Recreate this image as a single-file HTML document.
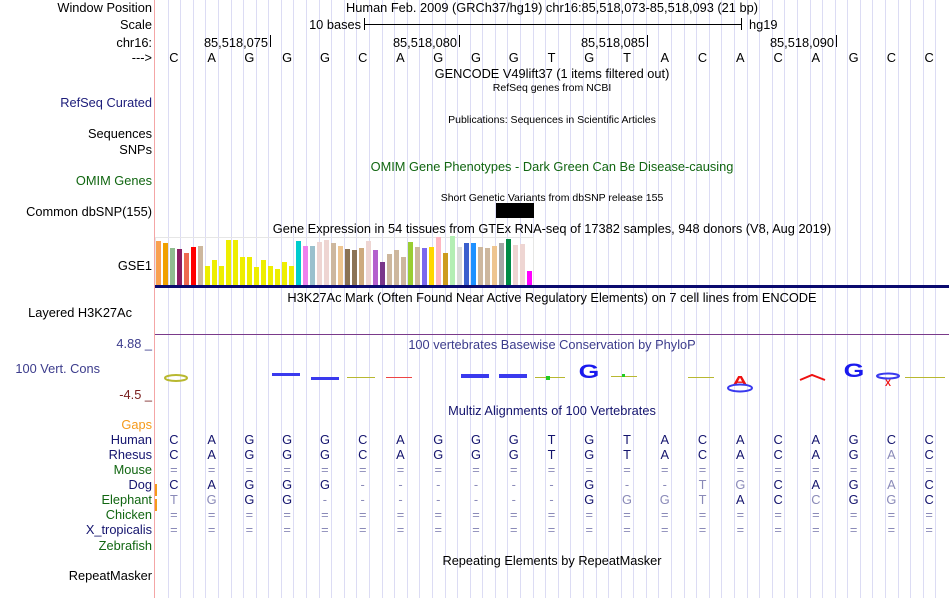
<!DOCTYPE html>
<html><head><meta charset="utf-8"><style>
body{margin:0;background:#fff;}
svg{display:block;font-family:"Liberation Sans",sans-serif;}
</style></head><body>
<svg id="s" width="950" height="598">
<g id="grid"></g>
<line x1="154.5" y1="0" x2="154.5" y2="598" stroke="#f4a6a6" stroke-width="1"/>
<g font-size="12.8" text-anchor="end">
<text x="152" y="12">Window Position</text>
<text x="152" y="29">Scale</text>
<text x="152" y="47">chr16:</text>
<text x="152" y="62">---&gt;</text>
<text x="152" y="107" fill="#1c1c7a">RefSeq Curated</text>
<text x="152" y="138">Sequences</text>
<text x="152" y="154">SNPs</text>
<text x="152" y="185" fill="#116611">OMIM Genes</text>
<text x="152" y="216">Common dbSNP(155)</text>
<text x="152" y="270">GSE1</text>
<text x="132" y="317">Layered H3K27Ac</text>
<text x="100" y="373" fill="#3c3c8c">100 Vert. Cons</text>
<text x="152" y="348" fill="#3c3c8c">4.88 _</text>
<text x="152" y="399" fill="#7a2020">-4.5 _</text>
<text x="152" y="429" fill="#f59a1a">Gaps</text>
<text x="152" y="444" fill="#14146e">Human</text>
<text x="152" y="459" fill="#14146e">Rhesus</text>
<text x="152" y="474" fill="#116611">Mouse</text>
<text x="152" y="489" fill="#14146e">Dog</text>
<text x="152" y="504" fill="#116611">Elephant</text>
<text x="152" y="519" fill="#116611">Chicken</text>
<text x="152" y="534" fill="#14146e">X_tropicalis</text>
<text x="152" y="550" fill="#116611">Zebrafish</text>
<text x="152" y="580">RepeatMasker</text>
</g>
<rect x="155" y="484" width="2" height="12" fill="#f59a1a"/>
<rect x="155" y="499" width="2" height="12" fill="#f59a1a"/>
<g font-size="12.8" text-anchor="middle">
<text x="552" y="12">Human Feb. 2009 (GRCh37/hg19)   chr16:85,518,073-85,518,093 (21 bp)</text>
<text x="552" y="78">GENCODE V49lift37 (1 items filtered out)</text>
<text x="552" y="91" font-size="10.5">RefSeq genes from NCBI</text>
<text x="552" y="123" font-size="10.5">Publications: Sequences in Scientific Articles</text>
<text x="552" y="171" fill="#116611">OMIM Gene Phenotypes - Dark Green Can Be Disease-causing</text>
<text x="552" y="201" font-size="10.5">Short Genetic Variants from dbSNP release 155</text>
<text x="552" y="233">Gene Expression in 54 tissues from GTEx RNA-seq of 17382 samples, 948 donors (V8, Aug 2019)</text>
<text x="552" y="302">H3K27Ac Mark (Often Found Near Active Regulatory Elements) on 7 cell lines from ENCODE</text>
<text x="552" y="349" fill="#3c3c8c">100 vertebrates Basewise Conservation by PhyloP</text>
<text x="552" y="415" fill="#14146e">Multiz Alignments of 100 Vertebrates</text>
<text x="552" y="565">Repeating Elements by RepeatMasker</text>
</g>
<g>
<text x="361" y="29" font-size="12.8" text-anchor="end">10 bases</text>
<line x1="364.5" y1="18" x2="364.5" y2="30" stroke="#000"/>
<line x1="364.5" y1="24.5" x2="741.5" y2="24.5" stroke="#000"/>
<line x1="741.5" y1="18" x2="741.5" y2="30" stroke="#000"/>
<text x="749" y="29" font-size="12.8">hg19</text>
</g>
<g font-size="12.8" text-anchor="end">
<text x="268" y="47">85,518,075</text><line x1="270.5" y1="35" x2="270.5" y2="47" stroke="#000"/>
<text x="457" y="47">85,518,080</text><line x1="459.5" y1="35" x2="459.5" y2="47" stroke="#000"/>
<text x="645" y="47">85,518,085</text><line x1="647.5" y1="35" x2="647.5" y2="47" stroke="#000"/>
<text x="834" y="47">85,518,090</text><line x1="836.5" y1="35" x2="836.5" y2="47" stroke="#000"/>
</g>
<g id="bases" font-size="12.8" text-anchor="middle"></g>
<rect x="496" y="203" width="38" height="15" fill="#000"/>
<rect x="155.5" y="237.5" width="378" height="48" fill="none" stroke="#e6e6e6"/>
<g id="bars"></g>
<rect x="155" y="285" width="794" height="3" fill="#0a0a6e"/>
<line x1="155" y1="334.5" x2="949" y2="334.5" stroke="#7a3a8a"/>
<g font-weight="bold" text-anchor="middle">
<ellipse cx="176" cy="378" rx="11" ry="3" fill="none" stroke="#b8b830" stroke-width="2"/>
<rect x="272" y="373" width="28" height="3" fill="#3a3aee"/>
<rect x="311" y="377" width="28" height="3" fill="#3a3aee"/>
<rect x="347" y="377" width="28" height="1" fill="#b8b830"/>
<rect x="386" y="377" width="26" height="1" fill="#ee4444"/>
<rect x="461" y="374" width="28" height="4" fill="#3a3aee"/>
<rect x="499" y="374" width="28" height="4" fill="#3a3aee"/>
<rect x="535" y="377" width="30" height="1" fill="#b8b830"/><rect x="546" y="376" width="4" height="4" fill="#2c2"/>
<text x="589" y="378" font-size="19" fill="#1a1aee" transform="translate(589 0) scale(1.4 1) translate(-589 0)">G</text>
<rect x="611" y="376" width="26" height="1" fill="#b8b830"/><rect x="622" y="374" width="3" height="3" fill="#2c2"/>
<rect x="688" y="377" width="26" height="1" fill="#b8b830"/>
<text x="740" y="385" font-size="13" fill="#ee1111" transform="translate(740 0) scale(1.6 1) translate(-740 0)">A</text>
<ellipse cx="740" cy="388" rx="12" ry="3.5" fill="none" stroke="#3a3aee" stroke-width="2"/>
<path d="M800 380 L812 375 L825 380" stroke="#ee1111" stroke-width="2" fill="none"/>
<text x="854" y="377" font-size="19" fill="#1a1aee" transform="translate(854 0) scale(1.4 1) translate(-854 0)">G</text>
<ellipse cx="888" cy="376" rx="11" ry="2.5" fill="none" stroke="#3a3aee" stroke-width="2"/>
<text x="888" y="386" font-size="9" fill="#ee1111">X</text>
<rect x="905" y="377" width="40" height="1" fill="#b8b830"/>
</g>
<g id="multiz" font-size="12.8" text-anchor="middle"></g>
</svg>
<script>
const seq = "CAGGGCAGGGTGTACACAGCC";
const gtexHeights = [44,42,37,36,32,38,39,19,25,19,45,45,28,28,18,25,19,16,23,19,44,39,39,43,45,42,39,36,35,37,44,35,23,31,35,28,43,38,37,38,48,32,49,38,42,42,38,37,39,42,46,40,41,14];
const gtexColors = ["#f9a050","#f0a000","#8fbc8f","#8b1c62","#ee6a50","#ff0000","#cdb79e","#eeee00","#eeee00","#eeee00","#eeee00","#eeee00","#eeee00","#eeee00","#eeee00","#eeee00","#eeee00","#eeee00","#eeee00","#eeee00","#00cdcd","#ee82ee","#9ac0cd","#eed5d2","#eed5d2","#cdb79e","#eec591","#8b7355","#8b7355","#cdaa7d","#eed5d2","#b460cd","#7a378b","#cdb79e","#cdb79e","#cdb79e","#9acd32","#cdb79e","#7b68ee","#ffd700","#ffb6c1","#cd9b1d","#b4eeb4","#d9d9d9","#3a5fcd","#1e90ff","#cdb79e","#cdb79e","#eec591","#a6a6a6","#008b45","#eed5d2","#eed5d2","#ff00ff"];
const species = ["Human","Rhesus","Mouse","Dog","Elephant","Chicken","X_tropicalis"];
const alignRows = [
 "CAGGGCAGGGTGTACACAGCC",
 "CAGGGCAGGGTGTACACAGaC",
 "=====================",
 "CAGGG------G--tgCAGaC",
 "tgGG-------GggtACcGgC",
 "=====================",
 "====================="
];
const ns="http://www.w3.org/2000/svg";
const L=155, W=793, bw=W/21;
const baseX=i=>L+bw*(i+0.5);
const grid=document.getElementById('grid');
for(let k=1;k<63;k++){
 const ln=document.createElementNS(ns,'line');
 const x=Math.round(L+k*bw/3)+0.5;
 ln.setAttribute('x1',x);ln.setAttribute('x2',x);ln.setAttribute('y1',0);ln.setAttribute('y2',598);
 ln.setAttribute('stroke','#dcdcf4');
 
 
 grid.appendChild(ln);
}
const bases=document.getElementById('bases');
for(let i=0;i<seq.length;i++){
 const t=document.createElementNS(ns,'text');
 t.setAttribute('x',baseX(i));t.setAttribute('y',62);t.textContent=seq[i];
 
 
 bases.appendChild(t);
}
const bars=document.getElementById('bars');
const yBase=285, pitch=7;
for(let i=0;i<gtexHeights.length;i++){
 const r=document.createElementNS(ns,'rect');
 r.setAttribute('x',156+i*pitch);r.setAttribute('width',5);
 r.setAttribute('y',yBase-gtexHeights[i]);r.setAttribute('height',gtexHeights[i]);
 r.setAttribute('fill',gtexColors[i]);
 
 
 bars.appendChild(r);
}
const mz=document.getElementById('multiz');
for(let r=0;r<alignRows.length;r++){
 const row=alignRows[r];
 for(let i=0;i<21;i++){
  let ch=row[i]; if(!ch||ch===' ') continue;
  const t=document.createElementNS(ns,'text');
  const lower=ch!==ch.toUpperCase();
  const isSym=(ch==='='||ch==='-');
  t.setAttribute('x',baseX(i));t.setAttribute('y',444+r*15);
  t.setAttribute('fill',(lower||isSym)?'#8a8ab8':'#14146e');
  t.textContent=ch.toUpperCase();
  
  
  mz.appendChild(t);
 }
}
</script>
</body></html>
